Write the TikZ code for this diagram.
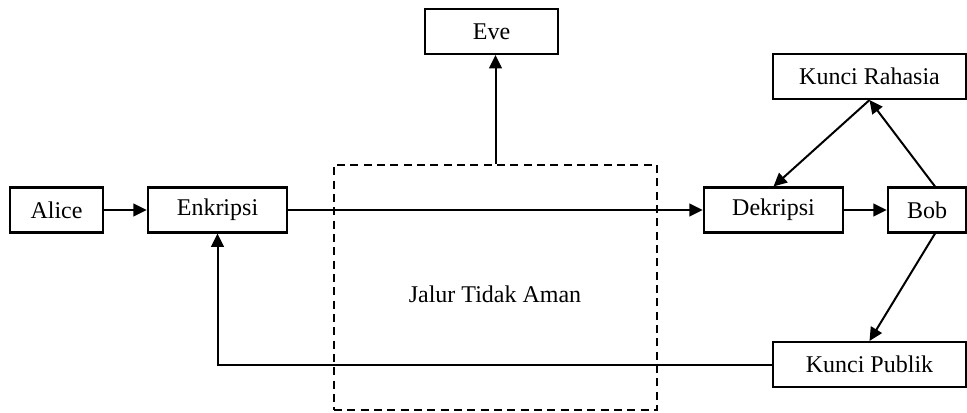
\documentclass[tikz,border=0pt]{standalone}
\usepackage{fontspec}
\setmainfont{Liberation Serif}
\usetikzlibrary{arrows.meta,calc}
\begin{document}
\begin{tikzpicture}[x=0.75pt,y=-0.75pt,
  box/.style={draw,line width=1.8pt,inner sep=0pt,minimum height=33.5pt,
    font=\fontsize{18}{21}\selectfont},
  arr/.style={line width=1.5pt,-{Triangle[length=10pt,width=9.5pt]}},
  plain/.style={line width=1.5pt}]
\useasboundingbox (0,0) rectangle (967,412);
% channel box
\node[draw,dashed,dash pattern=on 6pt off 4pt,line width=1.8pt,minimum width=242.25pt,minimum height=183.75pt,inner sep=0pt]
  (jalur) at (495.5,287.5) {};
\node[font=\fontsize{18}{21}\selectfont] (jalurtext) at (495,294) {Jalur Tidak Aman};
% parties and steps
\node[box,minimum width=69.75pt] (alice) at (56.5,210) {Alice};
\node[box,minimum width=104.25pt] (enk) at (217.5,210) {Enkripsi};
\node[box,minimum width=99.75pt] (eve) at (491.5,31.5) {Eve};
\node[box,minimum width=104.25pt] (dek) at (773.5,210) {Dekripsi};
\node[box,minimum width=58.5pt] (bob) at (927,210) {Bob};
\node[box,minimum width=144.75pt] (kr) at (869.5,76.5) {Kunci Rahasia};
\node[box,minimum width=144.75pt] (kp) at (869.5,364.5) {Kunci Publik};
\coordinate (bobtop) at ($(bob.north)+(8,0)$);
\coordinate (bobbot) at ($(bob.south)+(8,0)$);
% connectors
\draw[arr] (alice) -- (enk);
\draw[arr] (enk) -- (dek);
\draw[arr] (dek) -- (bob);
\draw[arr] (jalur.north) -- (jalur.north |- eve.south);
\draw[arr] (kr.south) -- (dek.north);
\draw[arr] (bobtop) -- (kr.south);
\draw[arr] (bobbot) -- (kp.north);
\draw[arr] (kp.west) -| (enk.south);
\end{tikzpicture}
\end{document}
